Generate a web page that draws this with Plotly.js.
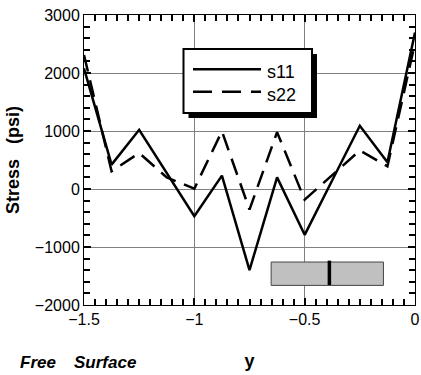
<!DOCTYPE html>
<html>
<head>
<meta charset="utf-8">
<script src="https://cdn.plot.ly/plotly-3.0.1.min.js"></script>
<style>html,body{margin:0;padding:0;background:#fff;}#chart{width:421px;height:375px;}</style>
</head>
<body>
<div id="chart"></div>
<script>
// ---- data ----
var yPos = [-1.5, -1.375, -1.25, -1.125, -1, -0.875, -0.75, -0.625, -0.5, -0.375, -0.25, -0.125, 0];
var s11 = [2080, 420, 1020, 275, -470, 230, -1400, 200, -790, 150, 1090, 460, 2700];
var s22 = [2310, 305, 620, 200, 5, 995, -355, 980, -185, 235, 665, 390, 2520];
var xRange = [-1.5, 0];
var yRange = [-2000, 3000];
var xTickStep = 0.5, xMinorStep = 0.05;
var yTickStep = 1000, yMinorStep = 200;
var seriesNames = ["s11", "s22"];
var xTitle = "y", yTitle = "Stress\u00a0\u00a0\u00a0(psi)";

var FONT = "Liberation Sans, Arial, Helvetica, sans-serif";

var traces = [
  {x: yPos, y: s11, name: seriesNames[0], type: "scatter", mode: "lines",
   line: {color: "#000", width: 2.5}, showlegend: false},
  {x: yPos, y: s22, name: seriesNames[1], type: "scatter", mode: "lines",
   line: {color: "#000", width: 2.5, dash: "17px,9px"}, showlegend: false}
];

function axis(range, step, minorStep) {
  return {
    range: range, dtick: step,
    showline: true, linecolor: "#000", mirror: "ticks",
    ticks: "inside", ticklen: 7, tickwidth: 1.5, tickcolor: "#000",
    minor: {dtick: minorStep, ticks: "inside", ticklen: 6, tickwidth: 1.5, tickcolor: "#000"},
    gridcolor: "#808080", zeroline: false,
    tickfont: {family: FONT, size: 16, color: "#000"}
  };
}

var xa = axis(xRange, xTickStep, xMinorStep);
xa.title = {text: "<b>" + xTitle + "</b>", font: {family: FONT, size: 18, color: "#000"}, standoff: 27};
var ya = axis(yRange, yTickStep, yMinorStep);
ya.title = {text: "<b>" + yTitle + "</b>", font: {family: FONT, size: 18, color: "#000"}, standoff: 10};

// legend box geometry (paper coords)
var LB = {x0: 0.3006, x1: 0.6888, y0: 0.6621, y1: 0.8828};
var SH = 0.0151, SV = 0.0172;

var layout = {
  width: 421, height: 375,
  margin: {l: 84, r: 6, t: 15, b: 70},
  showlegend: false,
  xaxis: xa,
  yaxis: ya,
  shapes: [
    {type: "rect", xref: "paper", yref: "paper", layer: "above",
     x0: LB.x0 + SH, x1: LB.x1 + SH, y0: LB.y0 - SV, y1: LB.y1 - SV,
     fillcolor: "#000", line: {width: 0}},
    {type: "rect", xref: "paper", yref: "paper", layer: "above",
     x0: LB.x0, x1: LB.x1, y0: LB.y0, y1: LB.y1,
     fillcolor: "#fff", line: {color: "#000", width: 2}},
    {type: "line", xref: "paper", yref: "paper", layer: "above",
     x0: 0.3293, x1: 0.5347, y0: 0.8128, y1: 0.8128,
     line: {color: "#000", width: 2.5}},
    {type: "line", xref: "paper", yref: "paper", layer: "above",
     x0: 0.3293, x1: 0.5347, y0: 0.7355, y1: 0.7355,
     line: {color: "#000", width: 2.5, dash: "19px,10px"}},
    {type: "rect", xref: "x", yref: "y", layer: "above",
     x0: -0.652, x1: -0.143, y0: -1662, y1: -1259,
     fillcolor: "#c0c0c0", line: {color: "#444", width: 1}},
    {type: "line", xref: "x", yref: "y", layer: "above",
     x0: -0.388, x1: -0.388, y0: -1655, y1: -1235,
     line: {color: "#000", width: 3.5}}
  ],
  annotations: [
    {xref: "paper", yref: "paper", x: 0.5468, y: 0.8034, xanchor: "left", yanchor: "middle",
     text: seriesNames[0], showarrow: false, font: {family: FONT, size: 18, color: "#000"}},
    {xref: "paper", yref: "paper", x: 0.5468, y: 0.7241, xanchor: "left", yanchor: "middle",
     text: seriesNames[1], showarrow: false, font: {family: FONT, size: 18, color: "#000"}},
    {xref: "paper", yref: "paper", x: -0.199, y: -0.197, xanchor: "left", yanchor: "middle",
     text: "<b><i>Free</i></b>", showarrow: false, font: {family: FONT, size: 17, color: "#000"}},
    {xref: "paper", yref: "paper", x: -0.035, y: -0.197, xanchor: "left", yanchor: "middle",
     text: "<b><i>Surface</i></b>", showarrow: false, font: {family: FONT, size: 17, color: "#000"}}
  ]
};

Plotly.newPlot("chart", traces, layout, {displayModeBar: false});
</script>
</body>
</html>
